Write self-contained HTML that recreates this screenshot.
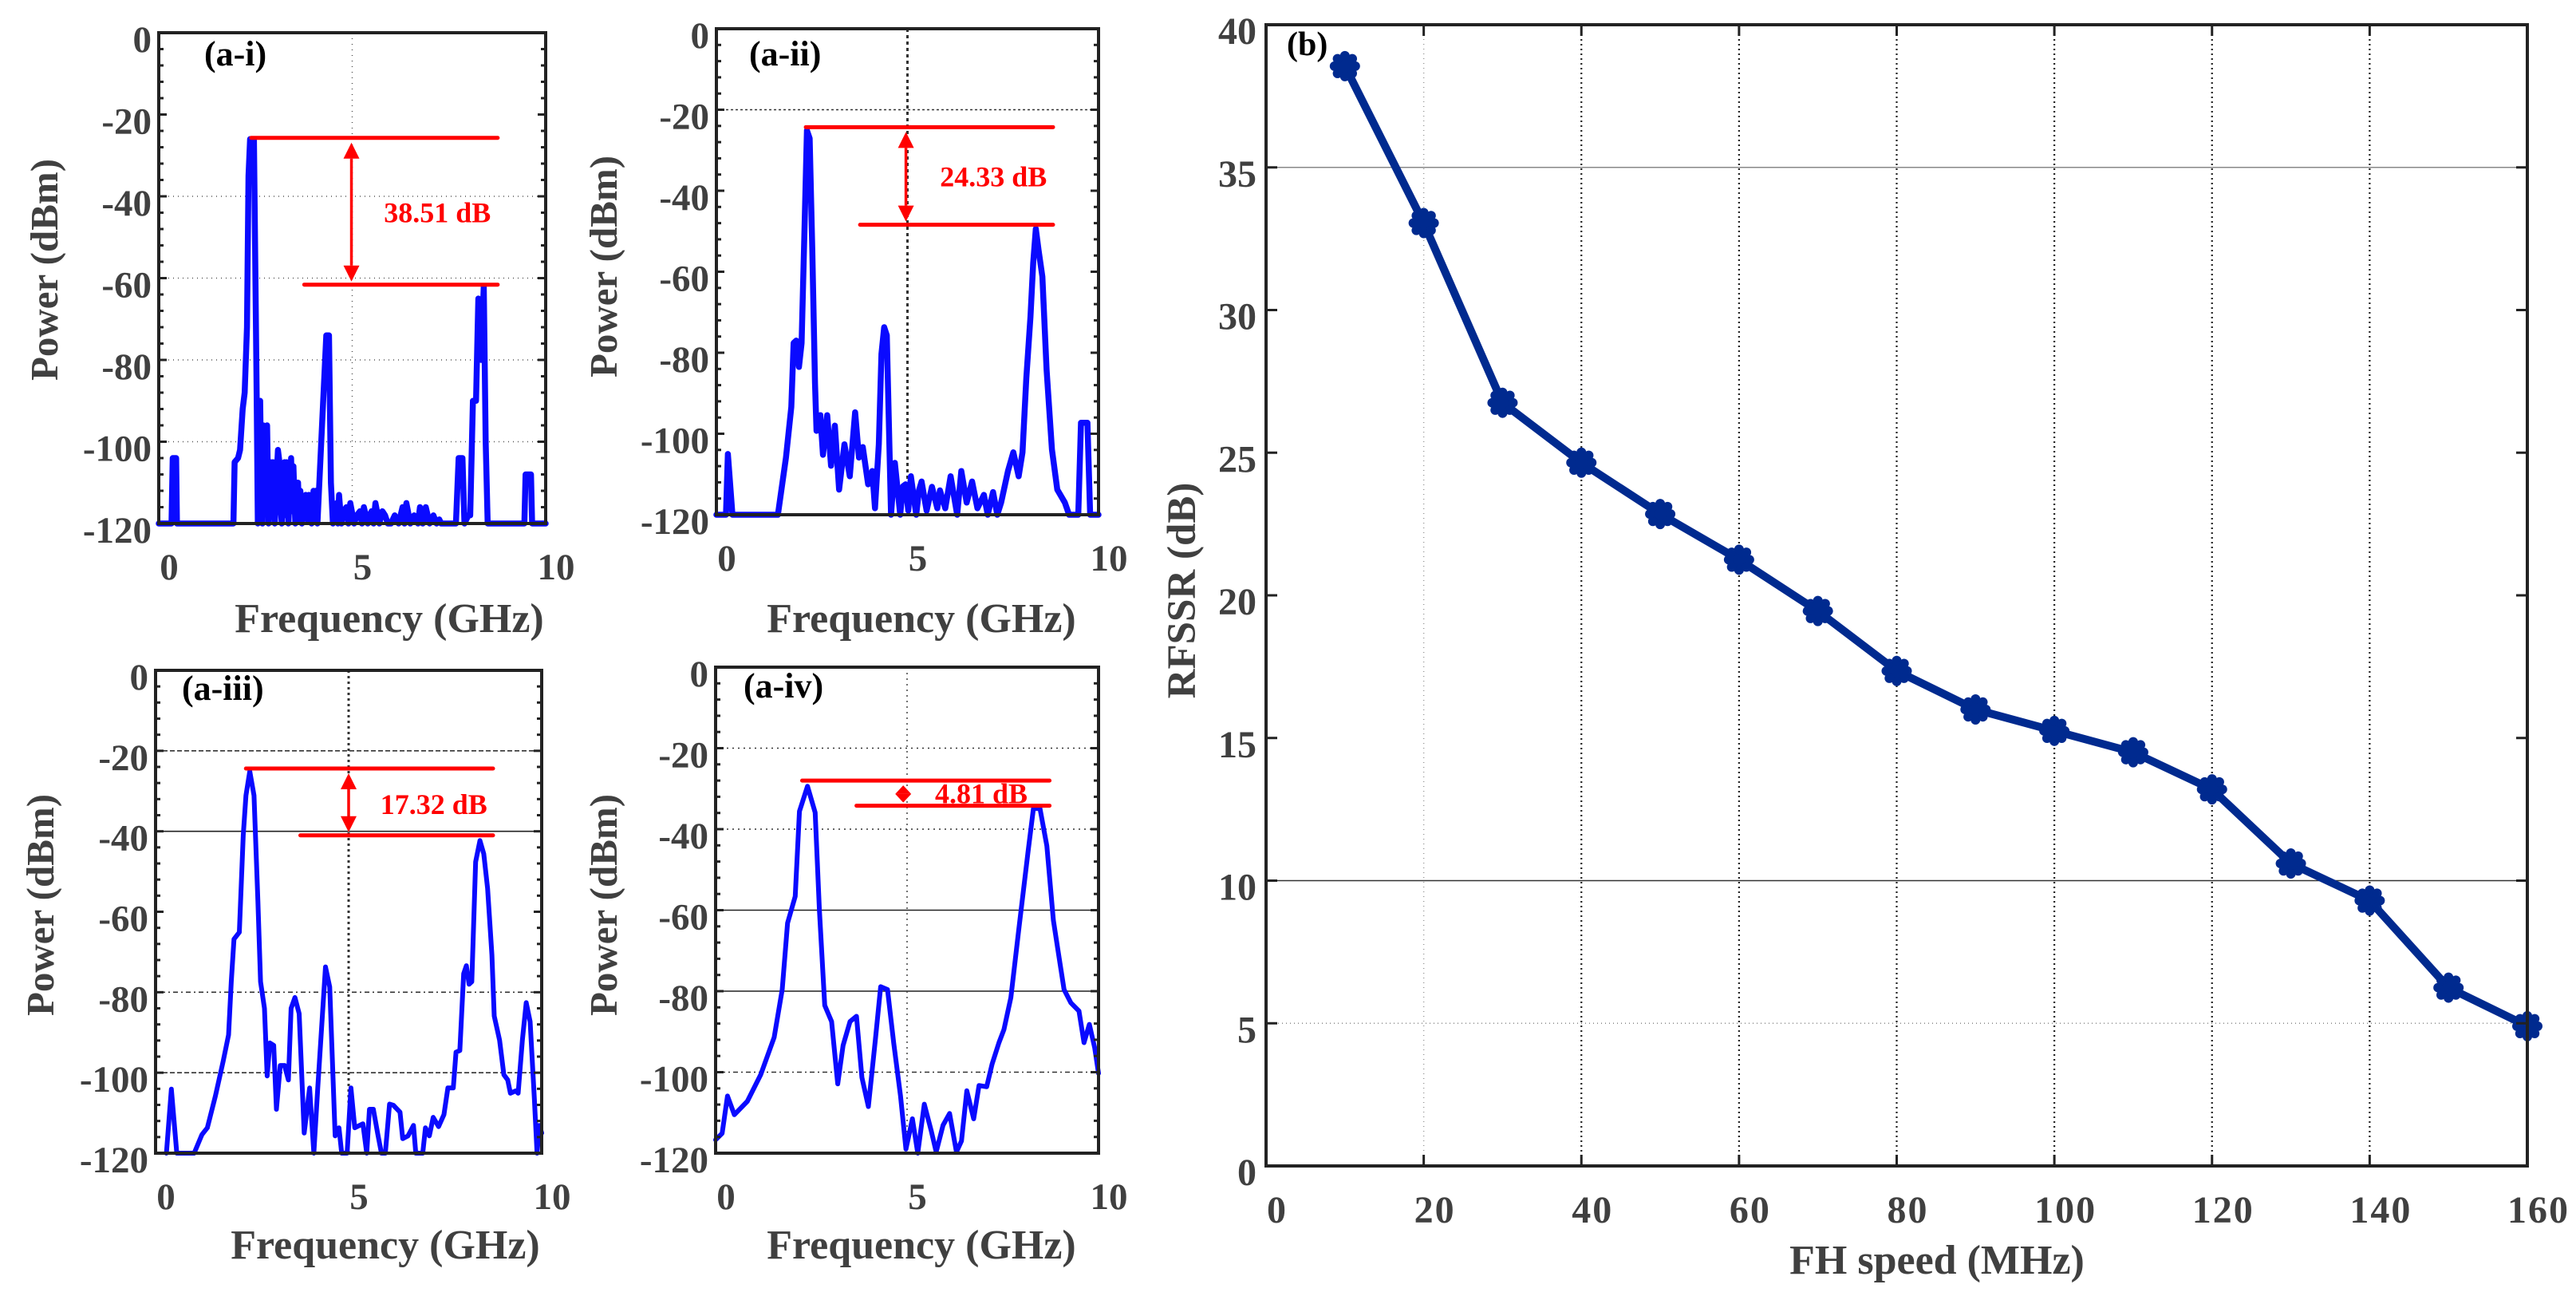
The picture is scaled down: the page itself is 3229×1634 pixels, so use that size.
<!DOCTYPE html>
<html><head><meta charset="utf-8">
<style>
html,body{margin:0;padding:0;background:#fff;}
svg{display:block;}
text{font-family:"Liberation Serif",serif;font-weight:bold;}
</style></head>
<body>
<svg id="fig" width="3229" height="1634" viewBox="0 0 3229 1634" xmlns="http://www.w3.org/2000/svg"></svg>
<script>
// ---------- Data ----------
const specA1 = [[0,-120],[0.33,-120],[0.36,-104],[0.45,-104],[0.47,-120],[1.93,-120],[1.96,-105],[2.05,-104],[2.1,-102],[2.17,-92],[2.22,-88],[2.28,-72],[2.32,-35],[2.36,-26],[2.46,-26],[2.5,-62],[2.53,-88],[2.56,-120],[2.6,-104],[2.62,-90],[2.65,-110],[2.68,-120],[2.7,-96],[2.76,-112],[2.8,-96],[2.84,-120],[2.88,-105],[2.92,-118],[2.95,-105],[3.0,-120],[3.04,-110],[3.08,-102],[3.12,-105],[3.15,-116],[3.18,-120],[3.22,-108],[3.25,-105],[3.28,-118],[3.3,-105],[3.35,-120],[3.42,-104],[3.45,-117],[3.48,-106],[3.53,-120],[3.57,-112],[3.6,-110],[3.63,-119],[3.66,-112],[3.7,-120],[3.75,-115],[3.8,-113],[3.84,-119],[3.88,-113],[3.95,-120],[4.0,-112],[4.03,-119],[4.06,-112],[4.1,-120],[4.2,-100],[4.33,-74],[4.4,-74],[4.45,-110],[4.5,-120],[4.55,-116],[4.6,-115],[4.63,-120],[4.66,-113],[4.72,-120],[4.78,-117],[4.85,-116],[4.9,-120],[4.95,-115],[5.05,-120],[5.12,-118],[5.2,-117],[5.25,-120],[5.3,-116],[5.4,-120],[5.45,-118],[5.5,-117],[5.55,-120],[5.6,-115],[5.7,-120],[5.78,-117],[5.85,-118],[5.92,-120],[6.0,-120],[6.1,-118],[6.2,-120],[6.3,-116],[6.35,-120],[6.4,-115],[6.5,-120],[6.6,-118],[6.7,-120],[6.75,-116],[6.82,-120],[6.9,-116],[7.0,-120],[7.1,-118],[7.18,-120],[7.25,-119],[7.3,-120],[7.68,-120],[7.75,-104],[7.85,-104],[7.9,-120],[8.0,-118],[8.05,-118],[8.12,-90],[8.2,-90],[8.26,-65],[8.33,-80],[8.4,-62],[8.45,-100],[8.5,-120],[8.65,-120],[9.45,-120],[9.48,-108],[9.62,-108],[9.65,-120],[10,-120]];
const specA2 = [[0,-120],[0.25,-120],[0.3,-105],[0.42,-120],[1.61,-120],[1.82,-105.9],[1.96,-93.4],[2.02,-77.6],[2.09,-77],[2.16,-83.5],[2.23,-77.6],[2.3,-51.4],[2.37,-25.1],[2.44,-27.1],[2.51,-54.6],[2.58,-87.5],[2.62,-99.3],[2.72,-95.4],[2.79,-105.2],[2.9,-95.4],[3.0,-107.9],[3.1,-98],[3.21,-113.8],[3.35,-102.6],[3.49,-110.5],[3.63,-94.7],[3.73,-105.9],[3.83,-103.3],[3.97,-112.5],[4.08,-109.2],[4.15,-118.4],[4.25,-102.6],[4.32,-80.3],[4.39,-73.7],[4.46,-75.7],[4.57,-120],[4.67,-107.2],[4.81,-120],[4.88,-113],[4.95,-112.5],[5.02,-119],[5.09,-110.5],[5.23,-120],[5.3,-114],[5.37,-111.8],[5.5,-119],[5.64,-113.1],[5.78,-118.4],[5.85,-114],[5.99,-118.4],[6.13,-110.5],[6.3,-120],[6.41,-109.2],[6.55,-117],[6.69,-111.8],[6.83,-118.4],[7.0,-115.1],[7.1,-120],[7.24,-114.4],[7.35,-120],[7.45,-117],[7.63,-109.2],[7.77,-104.6],[7.91,-110.5],[8.01,-104.6],[8.11,-86.2],[8.22,-71.1],[8.29,-57.9],[8.36,-49.4],[8.43,-54.6],[8.53,-61.2],[8.64,-84.2],[8.78,-103.9],[8.92,-113.8],[9.12,-117],[9.23,-120],[9.47,-120],[9.54,-97.3],[9.71,-97.3],[9.78,-120],[10,-120]];
const specA3 = [[0.28,-120],[0.41,-104.1],[0.55,-120],[1.0,-120],[1.2,-115.4],[1.34,-113.7],[1.55,-105.8],[1.75,-97.2],[1.89,-90.6],[1.96,-77.4],[2.03,-66.8],[2.17,-65.1],[2.27,-41],[2.34,-31.1],[2.44,-25.1],[2.55,-31.1],[2.65,-57.5],[2.72,-77.4],[2.82,-84],[2.89,-100.8],[2.96,-92.6],[3.06,-93.2],[3.13,-109.1],[3.23,-98.2],[3.34,-98.2],[3.44,-101.8],[3.51,-84],[3.61,-81.3],[3.72,-85.3],[3.85,-115],[3.99,-103.8],[4.1,-120],[4.2,-103.8],[4.4,-73.7],[4.51,-78.7],[4.65,-115.7],[4.75,-113.7],[4.82,-120],[4.96,-120],[5.06,-103.8],[5.16,-113.7],[5.37,-112.7],[5.47,-120],[5.54,-109.1],[5.64,-109.1],[5.75,-115],[5.85,-120],[5.95,-120],[6.06,-107.8],[6.16,-108.1],[6.33,-109.8],[6.4,-116.4],[6.54,-115.7],[6.68,-113.1],[6.74,-120],[6.92,-120],[6.99,-113.7],[7.09,-115.7],[7.19,-111.1],[7.33,-113.4],[7.47,-110.4],[7.57,-103.8],[7.71,-103.8],[7.78,-94.9],[7.88,-94.5],[7.98,-75.4],[8.05,-73.4],[8.12,-78],[8.19,-77.4],[8.29,-47.6],[8.4,-42.3],[8.5,-45.6],[8.6,-54.2],[8.71,-70.7],[8.77,-85.9],[8.91,-91.9],[9.02,-100.5],[9.12,-101.8],[9.19,-105.1],[9.33,-104.5],[9.39,-105.1],[9.5,-91.9],[9.6,-82.6],[9.7,-87.3],[9.81,-106.4],[9.88,-120],[9.94,-113.1],[10,-115]];
const specA4 = [[0,-116.7],[0.17,-115.1],[0.31,-105.9],[0.49,-110.5],[0.83,-107.2],[1.18,-100.6],[1.53,-91.4],[1.74,-79.6],[1.88,-63.2],[2.08,-56.6],[2.19,-35.6],[2.4,-29.4],[2.6,-35.9],[2.71,-59.9],[2.85,-83.5],[3.03,-87.5],[3.19,-102.9],[3.33,-93.4],[3.51,-87.5],[3.68,-86.2],[3.82,-101.3],[3.99,-108.5],[4.17,-92.1],[4.31,-78.9],[4.49,-79.6],[4.65,-92.7],[4.83,-105.9],[4.97,-119],[5.14,-111.5],[5.28,-120],[5.45,-107.9],[5.63,-114.4],[5.76,-119.7],[5.94,-113.1],[6.11,-110.2],[6.29,-119.7],[6.42,-117],[6.56,-104.6],[6.74,-111.5],[6.88,-103.3],[7.08,-103.6],[7.22,-98],[7.4,-92.7],[7.53,-89.5],[7.71,-81.6],[7.92,-64.5],[8.16,-45.5],[8.3,-34.9],[8.47,-34.9],[8.65,-44.1],[8.82,-62.5],[8.96,-71.1],[9.1,-79.6],[9.28,-82.9],[9.49,-84.9],[9.62,-92.7],[9.76,-88.2],[9.9,-94],[10,-100.3]];
// annotation levels [topLevel, topStartFreq, lowLevel, lowStartFreq, endFreq, arrowFreq]
const markA1 = [-25.7, 2.39, -61.6, 3.76, 8.76, 4.98];
const markA2 = [-24.3, 2.34, -48.4, 3.76, 8.81, 4.96];
const markA3 = [-24.4, 2.34, -41.0, 3.75, 8.74, 5.0];
const markA4 = [-28.0, 2.26, -34.2, 3.68, 8.72, 4.9];
const labelsA = ["38.51 dB","24.33 dB","17.32 dB","4.81 dB"];
const freqTicks = [0,5,10];
const powTicks = [0,-20,-40,-60,-80,-100,-120];
const fhSpeed = [10,20,30,40,50,60,70,80,90,100,110,120,130,140,150,160];
const rfssr = [38.55,33.05,26.75,24.65,22.85,21.25,19.45,17.35,16.0,15.25,14.5,13.2,10.6,9.3,6.25,4.9];
const speedTicks = [0,20,40,60,80,100,120,140,160];
const rfssrTicks = [0,5,10,15,20,25,30,35,40];

const NS="http://www.w3.org/2000/svg";
const svg=document.getElementById('fig');
function mk(tag,attrs,parent){const e=document.createElementNS(NS,tag);for(const k in attrs)e.setAttribute(k,attrs[k]);(parent||svg).appendChild(e);return e;}
function txt(s,attrs,parent){const e=mk('text',attrs,parent);e.textContent=s;return e;}

// ---------- spectrum panels ----------
const panels=[
 {id:'a-i',L:199,R:684,T:41,B:656,spec:specA1,lw:7.5,mark:markA1,lab:labelsA[0],tag:'(a-i)',tagX:256,tagY:68,xl:[488,775],yl:[56,338],lx:5.82,ly:-46.3,
  grids:[[-40,'1,5','#555'],[-60,'1,5','#555'],[-80,'1,5','#555'],[-100,'1,5','#555']],vgrid:['1,6','#555',1.5]},
 {id:'a-ii',L:898,R:1377,T:36,B:645,spec:specA2,lw:7.5,mark:markA2,lab:labelsA[1],tag:'(a-ii)',tagX:939,tagY:68,xl:[1155,775],yl:[757,334],lx:5.85,ly:-38.9,
  grids:[[-20,'3,3','#333']],vgrid:['4,4','#333',3]},
 {id:'a-iii',L:195,R:679,T:840,B:1445,spec:specA3,lw:6,mark:markA3,lab:labelsA[2],tag:'(a-iii)',tagX:228,tagY:863,xl:[483,1560],yl:[51,1134],lx:5.82,ly:-35.7,
  grids:[[-20,'6,3','#333'],[-40,'','#222'],[-80,'2,4,6,4','#333'],[-100,'6,3','#333']],vgrid:['3,4','#333',3]},
 {id:'a-iv',L:897,R:1377,T:836,B:1445,spec:specA4,lw:6,mark:markA4,lab:labelsA[3],tag:'(a-iv)',tagX:932,tagY:860,xl:[1155,1560],yl:[757,1134],lx:5.73,ly:-33.6,
  grids:[[-20,'2,5','#333'],[-40,'2,5','#333'],[-60,'','#222'],[-80,'','#222'],[-100,'2,4,6,4','#333']],vgrid:['2,5','#444',1.5]}
];
panels.forEach(p=>{
  const g=mk('g',{});
  
  
  const X=f=>p.L+(f/10)*(p.R-p.L);
  const Y=d=>p.T+(-d/120)*(p.B-p.T);
  p.grids.forEach(gr=>{
    const l=mk('line',{x1:p.L,x2:p.R,y1:Y(gr[0]),y2:Y(gr[0]),stroke:gr[2],'stroke-width':1.6,'stroke-dasharray':gr[1]},g);
    
    
  });
  const vg=mk('line',{x1:X(5),x2:X(5),y1:p.T,y2:p.B,stroke:p.vgrid[1],'stroke-width':p.vgrid[2],'stroke-dasharray':p.vgrid[0]},g);
  
  
  const d=p.spec.map((q,i)=>(i?'L':'M')+X(q[0]).toFixed(1)+' '+Y(Math.max(q[1],-120)).toFixed(1)).join(' ');
  const sp=mk('path',{d:d,fill:'none',stroke:'#0a0aff','stroke-width':p.lw,'stroke-linejoin':'round','stroke-linecap':'round'},g);
  
  
  const box=mk('rect',{x:p.L,y:p.T,width:p.R-p.L,height:p.B-p.T,fill:'none',stroke:'#222','stroke-width':4},g);
  
  
  for(let v=0;v>=-120;v-=4){
    const len=(v%20===0)?10:6;
    mk('line',{x1:p.L,x2:p.L+len,y1:Y(v),y2:Y(v),stroke:'#222','stroke-width':3},g);
    mk('line',{x1:p.R,x2:p.R-len,y1:Y(v),y2:Y(v),stroke:'#222','stroke-width':3},g);
  }
  powTicks.forEach(v=>{
    const t=txt(String(v),{x:p.L-9,y:Y(v)+8+16,'text-anchor':'end','font-size':47,fill:'#404040'},g);
    
    
  });
  freqTicks.forEach(v=>{
    const t=txt(String(v),{x:X(v)+13,y:p.B+54+16,'text-anchor':'middle','font-size':47,fill:'#404040'},g);
    
    
  });
  const xt=txt('Frequency (GHz)',{x:p.xl[0],y:p.xl[1]+17,'text-anchor':'middle','font-size':52,fill:'#404040'},g);
  
  
  const yt=txt('Power (dBm)',{x:0,y:0,'text-anchor':'middle','font-size':49,fill:'#404040',transform:'translate('+(p.yl[0]+16)+','+p.yl[1]+') rotate(-90)'},g);
  
  
  const tg=txt(p.tag,{x:p.tagX,y:p.tagY+14,'font-size':44,fill:'#000'},g);
  
  
  const m=p.mark;
  const l1=mk('line',{x1:X(m[1]),x2:X(m[4]),y1:Y(m[0]),y2:Y(m[0]),stroke:'#ff0000','stroke-width':5,'stroke-linecap':'round'},g);
  
  
  const l2=mk('line',{x1:X(m[3]),x2:X(m[4]),y1:Y(m[2]),y2:Y(m[2]),stroke:'#ff0000','stroke-width':5,'stroke-linecap':'round'},g);
  
  
  const ax=X(m[5]),ya=Y(m[0])+6,yb=Y(m[2])-4;
  const h=Math.min(20,(yb-ya)/2);
  const ar=mk('g',{},g);
  
  
  mk('line',{x1:ax,x2:ax,y1:ya+h,y2:yb-h,stroke:'#ff0000','stroke-width':3.5},ar);
  mk('polygon',{points:`${ax},${ya} ${ax-10},${ya+h} ${ax+10},${ya+h}`,fill:'#ff0000'},ar);
  mk('polygon',{points:`${ax},${yb} ${ax-10},${yb-h} ${ax+10},${yb-h}`,fill:'#ff0000'},ar);
  const lb=txt(p.lab,{x:X(p.lx),y:Y(p.ly),'font-size':36,fill:'#ff0000'},g);
  
  
});

// ---------- panel (b) ----------
(function(){
  const L=1587,R=3168,T=31,B=1461;
  const X=v=>L+v/160*(R-L), Y=v=>B-v/40*(B-T);
  const g=mk('g',{});
  
  
  [[35,'','#888',1.5],[10,'','#333',1.5],[5,'1,4','#888',1.5]].forEach(q=>{
    const l=mk('line',{x1:L,x2:R,y1:Y(q[0]),y2:Y(q[0]),stroke:q[2],'stroke-width':q[3],'stroke-dasharray':q[1]},g);
    
    
  });
  speedTicks.slice(1,-1).forEach(v=>{
    const l=mk('line',{x1:X(v),x2:X(v),y1:T,y2:B,stroke:v===20?'#999':'#222','stroke-width':v===20?1.5:2.2,'stroke-dasharray':v===20?'1,5':'2,4'},g);
    
    
  });
  const d=fhSpeed.map((v,i)=>(i?'L':'M')+X(v).toFixed(1)+' '+Y(rfssr[i]).toFixed(1)).join(' ');
  const ln=mk('path',{d:d,fill:'none',stroke:'#002a8f','stroke-width':10,'stroke-linejoin':'round'},g);
  
  
  fhSpeed.forEach((v,i)=>{
    const cx=X(v),cy=Y(rfssr[i]);
    const mg=mk('g',{},g);
    
    
    mk('circle',{cx:cx,cy:cy,r:13,fill:'#002a8f'},mg);
    for(let k=0;k<8;k++){const a=k*Math.PI/4;mk('circle',{cx:cx+13*Math.cos(a),cy:cy+13*Math.sin(a),r:6,fill:'#002a8f'},mg);}
  });
  const box=mk('rect',{x:L,y:T,width:R-L,height:B-T,fill:'none',stroke:'#222','stroke-width':4},g);
  
  
  rfssrTicks.forEach(v=>{
    mk('line',{x1:L,x2:L+14,y1:Y(v),y2:Y(v),stroke:'#222','stroke-width':3},g);
    mk('line',{x1:R,x2:R-14,y1:Y(v),y2:Y(v),stroke:'#222','stroke-width':3},g);
    const t=txt(String(v),{x:L-12,y:Y(v)+8+16,'text-anchor':'end','font-size':48,fill:'#404040'},g);
    
    
  });
  speedTicks.forEach(v=>{
    mk('line',{x1:X(v),x2:X(v),y1:B,y2:B-14,stroke:'#222','stroke-width':3},g);
    mk('line',{x1:X(v),x2:X(v),y1:T,y2:T+14,stroke:'#222','stroke-width':3},g);
    const t=txt(String(v),{x:X(v)+14,y:1516+16,'text-anchor':'middle','font-size':48,'letter-spacing':2,fill:'#404040'},g);
    
    
  });
  const xt=txt('FH speed (MHz)',{x:2428,y:1579+17,'text-anchor':'middle','font-size':52,fill:'#404040'},g);
  
  
  const yt=txt('RFSSR (dB)',{x:0,y:0,'text-anchor':'middle','font-size':51,fill:'#404040',transform:'translate(1498,740) rotate(-90)'},g);
  
  
  const tg=txt('(b)',{x:1613,y:55+14,'font-size':42,fill:'#000'},g);
  
  
})();
</script>
</body></html>
